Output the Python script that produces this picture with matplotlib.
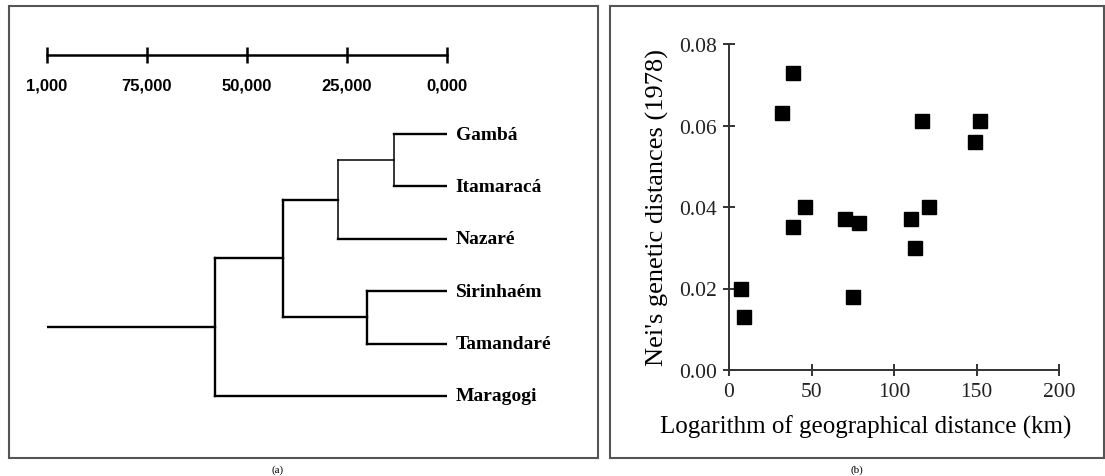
import numpy as np
import matplotlib
matplotlib.use("Agg")
import matplotlib.pyplot as plt
from matplotlib.patches import Rectangle

# UPGMA tree of the six populations
leaves = ["Gambá", "Itamaracá", "Nazaré", "Sirinhaém", "Tamandaré", "Maragogi"]
# merges: (child a, child b, height); new nodes are numbered after the leaves
merges = [(0, 1, 0.133), (6, 2, 0.273), (3, 4, 0.200), (7, 8, 0.410), (9, 5, 0.580)]
root_stem = 1.0
scale_ticks = [1.0, 0.75, 0.50, 0.25, 0.0]
scale_labels = ["1,000", "75,000", "50,000", "25,000", "0,000"]

# pairwise distances: geographic (log km) vs Nei's genetic distance
geo_dist = [7, 9, 32, 39, 39, 46, 70, 79, 75, 110, 113, 117, 121, 149, 152]
nei_dist = [0.020, 0.013, 0.063, 0.073, 0.035, 0.040, 0.037, 0.036, 0.018,
            0.037, 0.030, 0.061, 0.040, 0.056, 0.061]

W, H = 1105, 477
fig = plt.figure(figsize=(W / 100, H / 100), dpi=100)

def fbox(x0, y0, x1, y1):
    # pixel box (top-left origin) -> figure fraction rect
    return [x0 / W, 1 - y1 / H, (x1 - x0) / W, (y1 - y0) / H]

# panel frames
for x0, x1 in [(9, 598), (610, 1104)]:
    r = fbox(x0, 7, x1, 459)
    fig.patches.append(Rectangle((r[0], r[1]), r[2], r[3], transform=fig.transFigure,
                                 fill=False, edgecolor="#555555", lw=1.5))
fig.text(278 / W, 1 - 470 / H, "(a)", ha="center", va="center",
         family="Liberation Serif", fontsize=8)
fig.text(857 / W, 1 - 470 / H, "(b)", ha="center", va="center",
         family="Liberation Serif", fontsize=8)

# ---- dendrogram ----
step = 52.4
ax = fig.add_axes(fbox(47, 135 - 1.5 * step, 447, 135 + 5.5 * step))
ax.set_xlim(1.0, 0.0)
ax.set_ylim(5.5, -1.5)

ypos = {i: float(i) for i in range(len(leaves))}
hgt = {i: 0.0 for i in range(len(leaves))}
thin = {0, 1}
for k, (a, b, h) in enumerate(merges):
    lw = 1.1 if k in thin else 1.7
    ax.plot([h, h], [ypos[a], ypos[b]], color="black", lw=lw, solid_capstyle="projecting")
    for c in (a, b):
        clw = 1.1 if (k == 1 and c == 6) else 1.7
        ax.plot([h, hgt[c]], [ypos[c], ypos[c]], color="black", lw=clw,
                solid_capstyle="projecting")
    n = len(leaves) + k
    ypos[n] = (ypos[a] + ypos[b]) / 2
    hgt[n] = h
root = len(leaves) + len(merges) - 1
ax.plot([hgt[root], root_stem], [ypos[root], ypos[root]], color="black", lw=1.7)

for i, name in enumerate(leaves):
    ax.text(-0.022, i, name, ha="left", va="center", family="Liberation Serif",
            fontweight="bold", fontsize=14, clip_on=False)

for s in ["top", "left", "right"]:
    ax.spines[s].set_visible(False)
ax.spines["bottom"].set_position(("data", -1.5))
ax.spines["bottom"].set_linewidth(1.8)
ax.set_xticks(scale_ticks)
ax.set_xticklabels(scale_labels, family="Liberation Sans", fontweight="bold", fontsize=12)
ax.tick_params(axis="x", direction="inout", length=12, width=1.8, pad=10)
ax.set_yticks([])
ax.patch.set_visible(False)

# ---- scatter ----
bx = fig.add_axes(fbox(729, 45, 1059, 371))
bx.plot(geo_dist, nei_dist, "s", color="black", ms=9.5, clip_on=False)
bx.set_xlim(0, 200)
bx.set_ylim(0, 0.08)
bx.set_xticks([0, 50, 100, 150, 200])
bx.set_yticks([0.00, 0.02, 0.04, 0.06, 0.08])
bx.set_yticklabels(["0.00", "0.02", "0.04", "0.06", "0.08"])
for s in ["top", "right"]:
    bx.spines[s].set_visible(False)
for s in ["left", "bottom"]:
    bx.spines[s].set_color("#333333")
    bx.spines[s].set_linewidth(1.4)
bx.tick_params(direction="inout", length=9, width=1.4, color="#333333",
               labelcolor="#222222", labelsize=15.5, pad=4)
for lab in bx.get_xticklabels() + bx.get_yticklabels():
    lab.set_family("Liberation Serif")
bx.set_ylabel("Nei's genetic distances (1978)", family="Liberation Serif", fontsize=19)
bx.set_xlabel("Logarithm of geographical distance (km)", family="Liberation Serif",
              fontsize=18)
bx.yaxis.set_label_coords((657 - 729) / 330, 0.5)
bx.xaxis.set_label_coords((866 - 729) / 330, (371 - 427) / 326)
bx.xaxis.label.set_va("center")
bx.yaxis.label.set_va("center")

fig.savefig("out.png", dpi=100)
